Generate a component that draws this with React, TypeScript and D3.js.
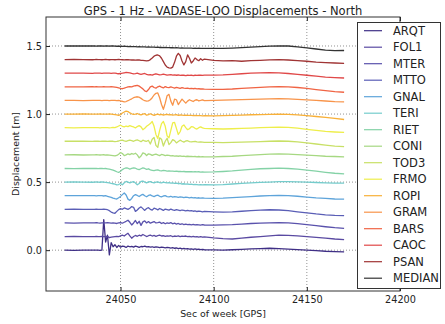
import React, { useEffect, useRef } from "react";
import * as d3 from "d3";

// GPS seconds of week (1 s sampling around the event, 5 s elsewhere)
const TIMES = [
  24020, 24025, 24030, 24035,
  24036, 24037, 24038, 24039, 24040, 24041, 24042, 24043, 24044, 24045,
  24046, 24047, 24048, 24049, 24050, 24051, 24052, 24053, 24054, 24055,
  24056, 24057, 24058, 24059, 24060, 24061, 24062, 24063, 24064, 24065,
  24066, 24067, 24068, 24069, 24070, 24071, 24072, 24073, 24074, 24075,
  24076, 24077, 24078, 24079, 24080, 24081, 24082, 24083, 24084, 24085,
  24086, 24087, 24088, 24089, 24090, 24091, 24092, 24093, 24094, 24095,
  24100, 24105, 24110, 24115, 24120, 24125, 24130, 24135, 24140, 24145, 24150, 24155, 24160, 24165, 24170,
];

const STATIONS = ["ARQT", "FOL1", "MTER", "MTTO", "GNAL", "TERI", "RIET", "CONI",
  "TOD3", "FRMO", "ROPI", "GRAM", "BARS", "CAOC", "PSAN", "MEDIAN"];

const OFFSETS = [0.0, 0.1, 0.2, 0.3, 0.4, 0.5, 0.6, 0.7, 0.8, 0.9, 1.0, 1.1, 1.2, 1.3, 1.4, 1.5];

const COLORS = ["#3f2f86", "#5a4aa2", "#5a52ac", "#5a5eb6", "#5ea4da", "#74cccc", "#84d2a6", "#a6d882",
  "#c8e066", "#eeee4a", "#f8b038", "#f8944a", "#f06444", "#e04848", "#a03434", "#333333"];

// displacements in mm, relative to each station's offset
const ARQT = [0, -1, 1, 0,
  0, 1, 0, -2, 0, 225, 60, 110, -35, 55,
  25, 40, 20, 35, 22, 30, 28, 20, 30, 25,
  28, 22, 30, 26, 20, 27, 25, 30, 24, 26,
  22, 25, 20, 24, 22, 18, 22, 20, 17, 20,
  18, 15, 18, 14, 16, 12, 15, 10, 13, 10,
  12, 8, 10, 6, 9, 5, 7, 4, 6, 3,
  2, 0, 3, 6, 10, 12, 14, 12, 8, 4, 0, -4, -8, -10, -12];
const FOL1 = [0, 1, -1, 0,
  0, 1, -1, 0, 2, 0, -1, 1, -8, -4,
  -2, 0, 2, 0, 5, 10, 4, 15, 24, 5,
  -12, 0, 8, 2, 10, 5, 15, 8, 0, 6,
  10, 4, 8, 2, 6, 10, 4, 6, 2, 5,
  3, 6, 0, 4, 2, 5, 0, 3, 1, 4,
  0, 2, -2, 1, -3, 0, -4, -1, -5, -2,
  -10, -15, -18, -12, -5, 0, 5, 10, 8, 5, 0, -6, -12, -18, -22];
const MTER = [0, -1, 0, 1,
  0, 2, 0, -1, 0, 1, 0, 2, 0, -2,
  0, -2, -4, 0, 3, -2, 5, 12, 20, 5,
  -15, 0, 18, -5, 12, -18, 8, 15, 0, 10,
  -2, 4, 10, 0, 2, 6, -4, 2, -6, 0,
  -3, 2, -6, -2, -8, -4, -10, -6, -12, -8,
  -12, -10, -14, -11, -15, -12, -14, -16, -13, -15,
  -16, -14, -12, -8, -4, -1, 0, 2, 0, -5, -12, -20, -28, -35, -40];
const MTTO = [0, 1, 0, -1,
  0, 1, 0, -1, 0, 2, 0, -3, -10, -20,
  -26, -29, -15, -2, 5, 0, 10, 5, 0, 8,
  20, 15, -15, -5, 10, 18, 5, -8, 6, 12,
  0, -6, 8, 4, -4, 6, 0, -8, 2, -2,
  -6, 2, -4, -8, -2, -6, -10, -5, -8, -12,
  -8, -12, -10, -14, -12, -16, -13, -15, -18, -15,
  -18, -20, -18, -14, -10, -6, -3, -5, -10, -18, -26, -34, -40, -44, -46];
const GNAL = [0, 0, 1, 0,
  0, -1, 1, 0, 0, -2, 0, -4, -8, -12,
  -18, -22, -24, -15, -5, 8, 20, 5, -25, -34,
  -20, 0, 8, 2, -6, 4, 10, 0, -8, 2,
  6, -2, -6, 0, 4, -4, -8, -2, 0, -6,
  -8, -4, -10, -6, -8, -12, -8, -10, -14, -10,
  -12, -15, -12, -16, -14, -17, -15, -18, -16, -18,
  -20, -18, -14, -10, -6, -2, 0, 2, 0, -4, -10, -16, -20, -24, -25];
const TERI = [0, 1, 0, -1,
  0, 1, 0, -1, 1, 0, -2, -4, -6, -10,
  -12, -15, -20, -18, -10, -20, -5, 5, 0, -5,
  0, 4, -6, -20, -10, 5, 8, 0, -6, 2,
  4, -2, -5, 0, 2, -4, -6, 0, -3, -6,
  -4, -8, -6, -10, -8, -12, -10, -14, -12, -15,
  -14, -16, -15, -18, -16, -18, -20, -18, -20, -19,
  -20, -18, -14, -10, -5, -2, 0, 3, 4, 2, 0, -3, -5, -7, -8];
const RIET = [0, -1, 0, 1,
  0, 0, -1, 1, 0, -1, 0, -2, -5, -8,
  -12, -18, -24, -29, -20, -8, 0, 5, 2, -4,
  0, 4, 2, -4, -8, -2, 4, 0, -6, -2,
  -10, -13, -16, -12, -10, -15, -18, -14, -16, -19,
  -18, -20, -19, -21, -20, -22, -21, -23, -22, -24,
  -23, -24, -23, -25, -24, -25, -24, -26, -25, -26,
  -25, -22, -18, -12, -6, -2, 0, 2, 0, -5, -12, -20, -28, -35, -40];
const CONI = [0, 1, -1, 0,
  0, 1, 0, -1, 0, 1, -1, 0, -2, -4,
  -6, -8, -4, 5, 17, 10, -5, 0, 8, 2,
  10, 5, 12, 0, -22, -8, 15, 10, -5, 8,
  4, -4, 2, 6, 0, -5, 3, 0, -6, -2,
  -4, -8, -5, -9, -7, -10, -8, -11, -9, -12,
  -10, -12, -11, -13, -12, -14, -12, -14, -13, -14,
  -14, -12, -10, -6, -2, 2, 5, 8, 6, 2, -2, -6, -10, -12, -14];
const TOD3 = [0, 1, 0, -1,
  0, 0, 1, -1, 0, 1, 0, -1, 0, 1,
  0, -2, -1, 2, 6, 8, 3, 0, 4, 8,
  5, 0, 6, 10, 4, -3, 8, 2, 0, 6,
  -20, 15, 28, -30, -45, 25, 15, -35, 0, 22,
  -25, -10, 12, 5, -12, -2, 8, 0, -6, 2,
  4, -3, -5, -2, 0, -5, -6, -4, -6, -8,
  -8, -10, -8, -6, -4, -2, 0, 2, 0, -5, -12, -20, -28, -35, -40];
const FRMO = [0, -1, 1, 0,
  0, 1, 0, -1, 0, 1, 0, 0, -1, 0,
  2, 0, 5, 12, 18, 10, 6, 12, 8, 15,
  10, 5, -2, 8, 15, 6, -15, -5, 10, 20,
  30, 45, 10, -50, -80, -20, 30, 45, 10, -60,
  -75, -20, 35, 38, -5, -50, -30, 10, 20, 0,
  -15, -8, 8, 5, -5, -10, 0, 6, -2, -5,
  -8, -10, -8, -5, -3, 0, 2, 4, 2, -4, -12, -20, -28, -32, -35];
const ROPI = [0, 0, 1, 0,
  0, -1, 0, 1, 0, 0, -1, 0, 1, 0,
  -2, -4, -6, -10, -4, 8, 15, 22, 18, 8,
  2, -3, 0, 4, -2, -6, 0, 3, -8, -4,
  2, -5, -10, -4, 0, -6, -3, -8, -5, -2,
  -6, -4, -8, -6, -5, -9, -7, -8, -10, -8,
  -9, -10, -9, -11, -10, -12, -11, -12, -13, -12,
  -14, -12, -10, -8, -5, -4, -2, 0, -2, -6, -12, -18, -25, -32, -40];
const GRAM = [0, 1, -1, 0,
  0, 1, 0, 0, -1, 0, 1, 0, -1, 0,
  1, 0, -2, 0, -4, -6, -10, -8, -2, 5,
  12, 20, 25, 27, 24, 15, 5, -2, -5, -3,
  5, 20, 40, 52, 55, 20, -30, -65, -20, 35,
  45, -5, -35, 10, 5, -30, -10, 10, -5, -20,
  -5, 5, -2, -8, 2, 5, -3, 0, 4, -2,
  0, 2, 4, 6, 8, 10, 12, 14, 12, 8, 4, 0, -4, -8, -10];
const BARS = [0, 0, -1, 1,
  0, 1, 0, -1, 0, 1, 0, -1, 0, 1,
  0, -2, -4, -8, -12, -14, -10, -5, 0, 2,
  0, 5, 8, 10, 5, -5, -15, -30, -35, -20,
  0, 5, -5, -10, 0, 5, -3, -8, 2, -4,
  -6, 0, -5, -10, -4, -8, -12, -6, -10, -12,
  -9, -13, -11, -14, -12, -15, -14, -16, -15, -17,
  -18, -18, -16, -12, -8, -4, 0, 2, 0, -5, -12, -20, -28, -35, -40];
const CAOC = [0, 1, 0, -1,
  0, 0, 1, 0, -1, 0, 1, 0, 0, -1,
  0, 1, -2, -4, -2, 0, 3, 6, 4, 2,
  -2, -5, -3, 0, -4, -8, -5, -2, -8, -12,
  -10, -14, -8, -4, -8, -12, -10, -6, -10, -14,
  -12, -10, -14, -12, -15, -13, -16, -14, -15, -17,
  -15, -16, -14, -17, -15, -16, -14, -15, -16, -14,
  -14, -12, -8, -4, 0, 2, 4, 2, -2, -8, -15, -22, -28, -32, -35];
const PSAN = [0, 1, 0, -1,
  0, 1, 0, 0, -1, 0, 1, 0, -1, 0,
  0, -1, 0, 1, 0, -1, -2, -1, 0, -2,
  -3, -2, -4, -3, -2, -5, -6, -8, -10, -8,
  0, 12, 25, 32, 34, 28, 10, -15, -40, -55,
  -60, -63, -55, -20, 25, 46, 30, -10, -39, -15,
  35, 10, -25, -10, 12, 0, -8, 6, -5, 4,
  -5, -10, -8, -12, -8, -5, -2, 0, -3, -8, -12, -18, -22, -25, -27];
const MEDIAN = [0, 0, 1, 0,
  0, -1, 0, 1, 0, -1, 0, 0, -1, 0,
  0, -1, -2, -1, -2, -3, -2, -3, -4, -3,
  -4, -5, -4, -6, -5, -6, -7, -6, -8, -7,
  -8, -9, -8, -10, -9, -11, -10, -12, -11, -12,
  -12, -13, -12, -14, -13, -14, -15, -14, -15, -16,
  -15, -16, -15, -17, -16, -17, -16, -18, -17, -18,
  -18, -17, -15, -12, -8, -4, -1, 1, 0, -6, -14, -22, -30, -34, -33];

const DISPLACEMENTS = [ARQT, FOL1, MTER, MTTO, GNAL, TERI, RIET, CONI,
  TOD3, FRMO, ROPI, GRAM, BARS, CAOC, PSAN, MEDIAN];

const X_TICKS = [24050, 24100, 24150, 24200];
const Y_TICKS = [0.0, 0.5, 1.0, 1.5];

const App = () => {
  const svgRef = useRef(null);

  useEffect(() => {
    const W = 445;
    const H = 324;
    const M = { top: 17, right: 45, bottom: 33, left: 46 };
    const font = "DejaVu Sans, sans-serif";

    const svg = d3.select(svgRef.current);
    svg.selectAll("*").remove();
    svg.attr("width", W).attr("height", H);

    const x = d3.scaleLinear().domain([24010, 24200]).range([M.left, W - M.right]);
    const y = d3.scaleLinear().domain([-0.3, 1.713]).range([H - M.bottom, M.top]);

    svg.append("rect").attr("width", W).attr("height", H).attr("fill", "#fff");

    // grid
    const grid = svg.append("g").attr("stroke", "#777").attr("stroke-width", 0.8).attr("stroke-dasharray", "1,2");
    X_TICKS.forEach((t) => {
      grid.append("line").attr("x1", x(t)).attr("x2", x(t)).attr("y1", M.top).attr("y2", H - M.bottom);
    });
    Y_TICKS.forEach((t) => {
      grid.append("line").attr("x1", M.left).attr("x2", W - M.right).attr("y1", y(t)).attr("y2", y(t));
    });

    // traces
    const line = d3.line().x((d) => x(d[0])).y((d) => y(d[1]));
    DISPLACEMENTS.forEach((vals, i) => {
      const pts = TIMES.map((t, j) => [t, OFFSETS[i] + vals[j] / 1000]);
      svg.append("path")
        .datum(pts)
        .attr("d", line)
        .attr("fill", "none")
        .attr("stroke", COLORS[i])
        .attr("stroke-width", 1.3)
        .attr("stroke-linejoin", "round");
    });

    // axes
    const xAxis = d3.axisBottom(x).tickValues(X_TICKS).tickSize(-4).tickPadding(5).tickFormat(d3.format("d"));
    const gx = svg.append("g").attr("transform", `translate(0,${H - M.bottom})`).call(xAxis);
    const yAxis = d3.axisLeft(y).tickValues(Y_TICKS).tickSize(-4).tickPadding(4).tickFormat(d3.format(".1f"));
    const gy = svg.append("g").attr("transform", `translate(${M.left},0)`).call(yAxis);
    const gt = svg.append("g").attr("transform", `translate(0,${M.top})`)
      .call(d3.axisTop(x).tickValues(X_TICKS).tickSize(-4).tickFormat(() => ""));
    const gr = svg.append("g").attr("transform", `translate(${W - M.right},0)`)
      .call(d3.axisRight(y).tickValues(Y_TICKS).tickSize(-4).tickFormat(() => ""));
    [gx, gy, gt, gr].forEach((g) => {
      g.select(".domain").remove();
      g.selectAll(".tick line").attr("stroke", "#222");
      g.selectAll("text").attr("font-family", font).attr("font-size", 9.7).attr("fill", "#222");
    });

    // frame
    svg.append("rect")
      .attr("x", M.left).attr("y", M.top)
      .attr("width", W - M.left - M.right).attr("height", H - M.top - M.bottom)
      .attr("fill", "none").attr("stroke", "#333").attr("stroke-width", 1);

    // title and labels
    svg.append("text").attr("x", (M.left + W - M.right) / 2).attr("y", 14.5)
      .attr("text-anchor", "middle").attr("font-family", font).attr("font-size", 11.5).attr("fill", "#222")
      .text("GPS - 1 Hz - VADASE-LOO Displacements - North");
    svg.append("text").attr("x", (M.left + W - M.right) / 2).attr("y", 317)
      .attr("text-anchor", "middle").attr("font-family", font).attr("font-size", 9.4).attr("fill", "#222")
      .text("Sec of week [GPS]");
    svg.append("text").attr("transform", `translate(19,${(M.top + H - M.bottom) / 2}) rotate(-90)`)
      .attr("text-anchor", "middle").attr("font-family", font).attr("font-size", 9.4).attr("fill", "#222")
      .text("Displacement [m]");

    // legend
    const lg = svg.append("g");
    lg.append("rect").attr("x", 357.5).attr("y", 22.5).attr("width", 83).attr("height", 266)
      .attr("fill", "#fff").attr("stroke", "#333").attr("stroke-width", 1);
    STATIONS.forEach((name, i) => {
      const ly = 30.7 + i * 16.5;
      lg.append("line").attr("x1", 364).attr("x2", 382).attr("y1", ly).attr("y2", ly)
        .attr("stroke", COLORS[i]).attr("stroke-width", 1.2);
      lg.append("text").attr("x", 393).attr("y", ly).attr("dy", "0.36em")
        .attr("font-family", font).attr("font-size", 11.5).attr("fill", "#222").text(name);
    });
  }, []);

  return <svg ref={svgRef} style={{ position: "absolute", left: 0, top: 0 }}></svg>;
};

export default App;
